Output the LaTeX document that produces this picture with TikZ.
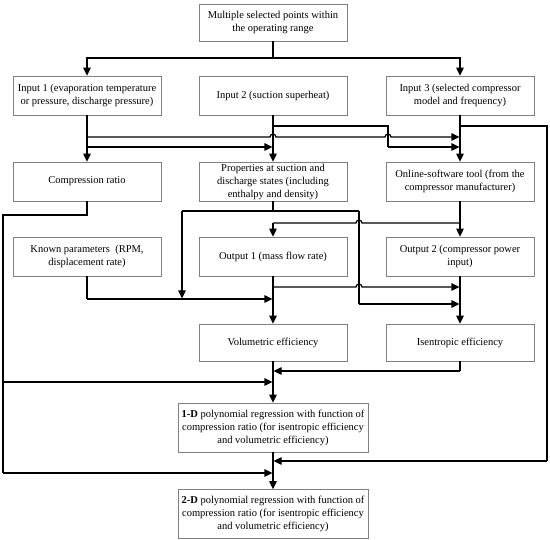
\documentclass[tikz,border=0pt]{standalone}
\usepackage{fontspec}
\setmainfont{Liberation Serif}
\usetikzlibrary{arrows.meta}
\begin{document}
\begin{tikzpicture}[x=1pt,y=-1pt,
  box/.style={draw=black!50, line width=0.7pt, rectangle, align=center, inner sep=1pt,
    font=\fontsize{10.5}{13}\selectfont, minimum width=148pt, minimum height=39pt},
  wide/.style={minimum width=190pt, minimum height=49pt},
  conn/.style={draw=black, line width=1.2pt},
  arr/.style={conn, -{Triangle[length=8pt,width=7.5pt]}},
  ]
\useasboundingbox (0,0) rectangle (550,540);
% nodes
\node[box, minimum height=37pt] (top) at (273,22.5) {Multiple selected points within\\the operating range};
\node[box] (in1) at (87,95.5) {Input 1 (evaporation temperature\\or pressure, discharge pressure)};
\node[box] (in2) at (273,95.5) {Input 2 (suction superheat)};
\node[box] (in3) at (460,95.5) {Input 3 (selected compressor\\model and frequency)};
\node[box] (comp) at (87,181.5) {Compression ratio};
\node[box] (props) at (273,181.5) {Properties at suction and\\discharge states (including\\enthalpy and density)};
\node[box] (online) at (460,181.5) {Online-software tool (from the\\compressor manufacturer)};
\node[box] (known) at (87,256.5) {Known parameters~ (RPM,\\displacement rate)};
\node[box] (out1) at (273,256.5) {Output 1 (mass flow rate)};
\node[box] (out2) at (460,256.5) {Output 2 (compressor power\\input)};
\node[box, minimum height=37pt] (vol) at (273,342.5) {Volumetric efficiency};
\node[box, minimum height=37pt] (isen) at (460,342.5) {Isentropic efficiency};
\node[box, wide] (oned) at (273,427.5) {\textbf{1-D} polynomial regression with function of\\compression ratio (for isentropic efficiency\\and volumetric efficiency)};
\node[box, wide] (twod) at (273,514) {\textbf{2-D} polynomial regression with function of\\compression ratio (for isentropic efficiency\\and volumetric efficiency)};
% junction coordinates
\coordinate (j0) at (273,58);
\coordinate (a1) at (87,137);
\coordinate (a2) at (87,147);
\coordinate (b1) at (273,126);
\coordinate (b2) at (388,126);
\coordinate (b3) at (388,147);
\coordinate (c1) at (460,126);
\coordinate (c2) at (547,126);
\coordinate (c3) at (547,461);
\coordinate (p1) at (273,211);
\coordinate (p2) at (182,211);
\coordinate (p3) at (359,211);
\coordinate (p4) at (359,304);
\coordinate (o1) at (460,223);
\coordinate (o2) at (273,223);
\coordinate (k1) at (87,299);
\coordinate (q1) at (273,287);
\coordinate (i1) at (460,371);
\coordinate (l1) at (87,215);
\coordinate (l2) at (3,215);
\coordinate (l3) at (3,473);
\coordinate (l4) at (3,382);
% top
\draw[conn] (top.south) -- (j0);
\draw[arr] (j0) -| (in1.north);
\draw[arr] (j0) -| (in3.north);
% input 1
\draw[arr] (in1.south) -- (comp.north);
\draw[arr] (a1) -- (270,137) arc[start angle=180, end angle=360, radius=3] -- (385,137)
  arc[start angle=180, end angle=360, radius=3] -- (459.4,137);
\draw[arr] (a2) -- (272.4,147);
% input 2
\draw[arr] (in2.south) -- (props.north);
\draw[conn] (b1) -- (b2) -- (b3);
\draw[arr] (b3) -- (459.4,147);
% input 3
\draw[arr] (in3.south) -- (online.north);
\draw[conn] (c1) -- (c2) -- (c3);
\draw[arr] (c3) -- (273.6,461);
% properties
\draw[conn] (props.south) -- (p1);
\draw[conn] (p2) -- (p3);
\draw[arr] (p2) -- (182,298.4);
\draw[conn] (p3) -- (p4);
\draw[arr] (p4) -- (459.4,304);
% online tool
\draw[arr] (online.south) -- (out2.north);
\draw[conn] (o2) -- (356,223) arc[start angle=180, end angle=360, radius=3] -- (o1);
\draw[arr] (o2) -- (out1.north);
% known parameters
\draw[conn] (known.south) -- (k1);
\draw[arr] (k1) -- (272.4,299);
% output 1
\draw[arr] (out1.south) -- (vol.north);
\draw[arr] (q1) -- (356,287) arc[start angle=180, end angle=360, radius=3] -- (459.4,287);
% output 2
\draw[arr] (out2.south) -- (isen.north);
% volumetric / isentropic
\draw[arr] (vol.south) -- (oned.north);
\draw[conn] (isen.south) -- (i1);
\draw[arr] (i1) -- (273.6,371);
% compression ratio loop
\draw[conn] (comp.south) -- (l1) -- (l2) -- (l3);
\draw[arr] (l3) -- (272.4,473);
\draw[arr] (l4) -- (272.4,382);
% 1-D to 2-D
\draw[arr] (oned.south) -- (twod.north);
\end{tikzpicture}
\end{document}
